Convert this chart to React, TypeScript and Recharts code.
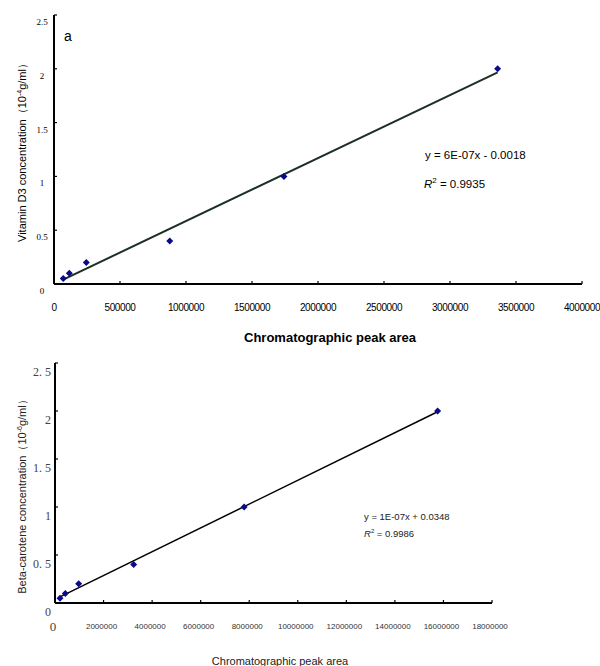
import { ScatterChart, Scatter, XAxis, YAxis } from "recharts";

// chart a: vitamin D3
const vdArea = [70000, 116000, 245000, 877000, 1742000, 3361000];
const vdConc = [0.05, 0.1, 0.2, 0.4, 1.0, 2.0];
const vdXTicks = [0, 500000, 1000000, 1500000, 2000000, 2500000, 3000000, 3500000, 4000000];
const vdYTicks = [0, 0.5, 1, 1.5, 2, 2.5];
const vdYLabels = ["0", "0.5", "1", "1.5", "2", "2.5"];

// chart b: beta-carotene
const bcArea = [206000, 424000, 975000, 3240000, 7790000, 15760000];
const bcConc = [0.05, 0.1, 0.2, 0.4, 1.0, 2.0];
const bcXTicks = [0, 2000000, 4000000, 6000000, 8000000, 10000000, 12000000, 14000000, 16000000, 18000000];
const bcYTicks = [0, 0.5, 1, 1.5, 2, 2.5];
const bcYLabels = ["0", "0. 5", "1", "1. 5", "2", "2. 5"];

function toPoints(xs: number[], ys: number[]) {
  return xs.map((x, i) => ({ x, y: ys[i] }));
}

// least squares trend line between first and last point
function trend(xs: number[], ys: number[]) {
  const n = xs.length;
  const mx = xs.reduce((a, b) => a + b, 0) / n;
  const my = ys.reduce((a, b) => a + b, 0) / n;
  let sxy = 0;
  let sxx = 0;
  xs.forEach((x, i) => {
    sxy += (x - mx) * (ys[i] - my);
    sxx += (x - mx) * (x - mx);
  });
  const k = sxy / sxx;
  const b = my - k * mx;
  const lo = Math.min(...xs);
  const hi = Math.max(...xs);
  return [
    { x: lo, y: k * lo + b },
    { x: hi, y: k * hi + b },
  ];
}

const Diamond = (props: any) => {
  const { cx, cy } = props;
  const r = 3.5;
  return (
    <polygon
      points={`${cx},${cy - r} ${cx + r},${cy} ${cx},${cy + r} ${cx - r},${cy}`}
      fill="#0a0a8a"
    />
  );
};

const NoDot = () => <g />;

const VdYTick = (props: any) => {
  const { x, y, payload } = props;
  const i = vdYTicks.indexOf(payload.value);
  return (
    <g>
      <line x1={x} x2={x + 3} y1={y} y2={y} stroke="#000" strokeWidth={1.2} />
      <text x={x - 12} y={y + 10} textAnchor="middle" fontFamily="Liberation Serif" fontSize={9} fill="#000">
        {vdYLabels[i]}
      </text>
    </g>
  );
};

const VdXTick = (props: any) => {
  const { x, y, payload } = props;
  return (
    <g>
      {payload.value > 0 && <line x1={x} x2={x} y1={y} y2={y - 3} stroke="#000" strokeWidth={1.2} />}
      <text x={x} y={y + 27} textAnchor="middle" fontFamily="Liberation Sans" fontSize={10} letterSpacing={-0.4} fill="#000">
        {payload.value}
      </text>
    </g>
  );
};

const BcYTick = (props: any) => {
  const { x, y, payload } = props;
  const i = bcYTicks.indexOf(payload.value);
  return (
    <g>
      <line x1={x} x2={x + 3} y1={y} y2={y} stroke="#000" strokeWidth={1.2} />
      <text x={x - 4} y={y + 13} textAnchor="end" fontFamily="Liberation Serif" fontSize={12} fill="#444">
        {bcYLabels[i]}
      </text>
    </g>
  );
};

const BcXTick = (props: any) => {
  const { x, y, payload } = props;
  if (payload.value === 0) {
    return (
      <text x={x - 2} y={y + 28} textAnchor="middle" fontFamily="Liberation Serif" fontSize={13} fill="#444">
        0
      </text>
    );
  }
  return (
    <g>
      <line x1={x} x2={x} y1={y} y2={y - 3} stroke="#000" strokeWidth={1.2} />
      <text x={x - 2} y={y + 26} textAnchor="middle" fontFamily="Liberation Sans" fontSize={8} fill="#333">
        {payload.value}
      </text>
    </g>
  );
};

const abs = (left: number, top: number, extra: any = {}) => ({
  position: "absolute" as const,
  left,
  top,
  whiteSpace: "nowrap" as const,
  fontFamily: "Liberation Sans, Arial, sans-serif",
  color: "#000",
  lineHeight: 1,
  ...extra,
});

export default function App() {
  const vdData = toPoints(vdArea, vdConc);
  const bcData = toPoints(bcArea, bcConc);
  return (
    <div style={{ position: "absolute", left: 0, top: 0, width: 600, height: 666, background: "#fff", overflow: "hidden" }}>
      <div style={{ position: "absolute", left: 0, top: 0 }}>
        <ScatterChart width={600} height={345} margin={{ top: 15, right: 18, left: 0, bottom: 0 }}>
          <XAxis
            type="number"
            dataKey="x"
            domain={[0, 4000000]}
            ticks={vdXTicks}
            height={61}
            tickSize={0}
            tickMargin={0}
            tickLine={false}
            tick={<VdXTick />}
            interval={0}
            axisLine={{ stroke: "#000", strokeWidth: 2 }}
          />
          <YAxis
            type="number"
            dataKey="y"
            domain={[0, 2.5]}
            ticks={vdYTicks}
            width={54}
            tickSize={0}
            tickMargin={0}
            tickLine={false}
            tick={<VdYTick />}
            interval={0}
            axisLine={{ stroke: "#000", strokeWidth: 2 }}
          />
          <Scatter data={trend(vdArea, vdConc)} line={{ stroke: "#1c2f24", strokeWidth: 2 }} shape={<NoDot />} isAnimationActive={false} />
          <Scatter data={vdData} shape={<Diamond />} isAnimationActive={false} />
        </ScatterChart>
      </div>
      <div style={abs(64, 29, { fontSize: 14 })}>a</div>
      <div style={abs(425, 150, { fontSize: 11.5 })}>y = 6E-07x - 0.0018</div>
      <div style={abs(424, 177, { fontSize: 11.5 })}>
        <i>R</i>
        <sup style={{ fontSize: 8 }}>2</sup> = 0.9935
      </div>
      <div style={abs(330, 337, { fontSize: 13, fontWeight: 700, transform: "translate(-50%, -50%)" })}>
        Chromatographic peak area
      </div>
      <div style={abs(22, 150, { fontSize: 11, transform: "translate(-50%, -50%) rotate(-90deg)" })}>
        Vitamin D3 concentration（10<sup style={{ fontSize: 7 }}>-4</sup>g/ml）
      </div>

      <div style={{ position: "absolute", left: 0, top: 340 }}>
        <ScatterChart width={600} height={326} margin={{ top: 23, right: 108, left: 0, bottom: 0 }}>
          <XAxis
            type="number"
            dataKey="x"
            domain={[0, 18000000]}
            ticks={bcXTicks}
            height={63}
            tickSize={0}
            tickMargin={0}
            tickLine={false}
            tick={<BcXTick />}
            interval={0}
            axisLine={{ stroke: "#000", strokeWidth: 2 }}
          />
          <YAxis
            type="number"
            dataKey="y"
            domain={[0, 2.5]}
            ticks={bcYTicks}
            width={55}
            tickSize={0}
            tickMargin={0}
            tickLine={false}
            tick={<BcYTick />}
            interval={0}
            axisLine={{ stroke: "#000", strokeWidth: 2 }}
          />
          <Scatter data={trend(bcArea, bcConc)} line={{ stroke: "#000", strokeWidth: 1.5 }} shape={<NoDot />} isAnimationActive={false} />
          <Scatter data={bcData} shape={<Diamond />} isAnimationActive={false} />
        </ScatterChart>
      </div>
      <div style={abs(364, 512, { fontSize: 9.5, color: "#222" })}>y = 1E-07x + 0.0348</div>
      <div style={abs(364, 528, { fontSize: 9.5, color: "#222" })}>
        <i>R</i>
        <sup style={{ fontSize: 6 }}>2</sup> = 0.9986
      </div>
      <div style={abs(280, 661, { fontSize: 11, color: "#222", transform: "translate(-50%, -50%)" })}>
        Chromatographic peak area
      </div>
      <div style={abs(22, 494, { fontSize: 11, color: "#222", transform: "translate(-50%, -50%) rotate(-90deg)" })}>
        Beta-carotene concentration（10<sup style={{ fontSize: 7 }}>-6</sup>g/ml）
      </div>
    </div>
  );
}
